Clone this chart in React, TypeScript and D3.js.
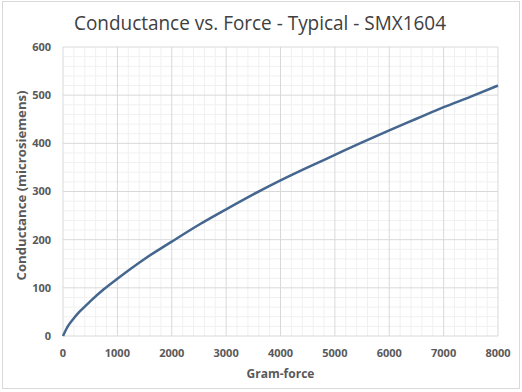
import React from 'react';
import * as d3 from 'd3';

// values
const force = [0, 50, 100, 200, 300, 400, 500, 750, 1000, 1500, 2000, 2500, 3000, 3500, 4000, 4500, 5000, 5500, 6000, 6500, 7000, 7500, 8000];
const conductance = [0, 12, 22, 37, 50, 61, 72, 97, 119, 160, 196, 231, 263, 294, 323, 350, 376, 402, 427, 451, 475, 497, 520];
const xTicks = [0, 1000, 2000, 3000, 4000, 5000, 6000, 7000, 8000];
const yTicks = [0, 100, 200, 300, 400, 500, 600];

const W = 522;
const H = 392;
const margin = { top: 47, right: 24, bottom: 56, left: 63 };

const App: React.FC = () => {
  const innerW = W - margin.left - margin.right;
  const innerH = H - margin.top - margin.bottom;

  const x = d3.scaleLinear().domain([0, 8000]).range([0, innerW]);
  const y = d3.scaleLinear().domain([0, 600]).range([innerH, 0]);

  const minorX = d3.range(0, 8001, 200).filter((v) => v % 1000 !== 0);
  const minorY = d3.range(0, 601, 20).filter((v) => v % 100 !== 0);

  const data: [number, number][] = force.map((f, i) => [f, conductance[i]]);
  const line = d3
    .line<[number, number]>()
    .x((d) => x(d[0]))
    .y((d) => y(d[1]))
    .curve(d3.curveMonotoneX);

  const font = '"Open Sans", "Noto Sans", sans-serif';

  return (
    <svg
      width={W}
      height={H}
      style={{ position: 'absolute', left: 0, top: 0, background: '#fff' }}
      fontFamily={font}
    >
      <rect x={2.5} y={1.5} width={517} height={387} fill="#fff" stroke="#d9d9d9" />
      <text
        x={260}
        y={30}
        textAnchor="middle"
        fontSize={20}
        fill="#404040"
        textLength={372}
        lengthAdjust="spacingAndGlyphs"
      >
        Conductance vs. Force - Typical - SMX1604
      </text>
      <g transform={`translate(${margin.left},${margin.top})`}>
        {minorX.map((v) => (
          <line key={'mx' + v} x1={x(v)} x2={x(v)} y1={0} y2={innerH} stroke="#f0f0f0" />
        ))}
        {minorY.map((v) => (
          <line key={'my' + v} x1={0} x2={innerW} y1={y(v)} y2={y(v)} stroke="#f0f0f0" />
        ))}
        {xTicks.map((v) => (
          <line key={'gx' + v} x1={x(v)} x2={x(v)} y1={0} y2={innerH} stroke="#d9d9d9" />
        ))}
        {yTicks.map((v) => (
          <line key={'gy' + v} x1={0} x2={innerW} y1={y(v)} y2={y(v)} stroke="#d9d9d9" />
        ))}
        <path d={line(data) || ''} fill="none" stroke="#44668f" strokeWidth={2.5} />
        {yTicks.map((v) => (
          <text
            key={'ty' + v}
            x={-12}
            y={y(v)}
            dy="0.35em"
            textAnchor="end"
            fontSize={11}
            fontWeight="bold"
            fill="#595959"
          >
            {v}
          </text>
        ))}
        {xTicks.map((v) => (
          <text
            key={'tx' + v}
            x={x(v)}
            y={innerH + 17}
            dy="0.35em"
            textAnchor="middle"
            fontSize={11}
            fontWeight="bold"
            fill="#595959"
          >
            {v}
          </text>
        ))}
        <text
          x={innerW / 2}
          y={innerH + 42}
          textAnchor="middle"
          fontSize={12}
          fontWeight="bold"
          fill="#595959"
        >
          Gram-force
        </text>
        <text
          transform={`translate(-37,${innerH / 2 - 6}) rotate(-90)`}
          textAnchor="middle"
          fontSize={12}
          fontWeight="bold"
          fill="#595959"
          textLength={190}
          lengthAdjust="spacingAndGlyphs"
        >
          Conductance (microsiemens)
        </text>
      </g>
    </svg>
  );
};

export default App;
